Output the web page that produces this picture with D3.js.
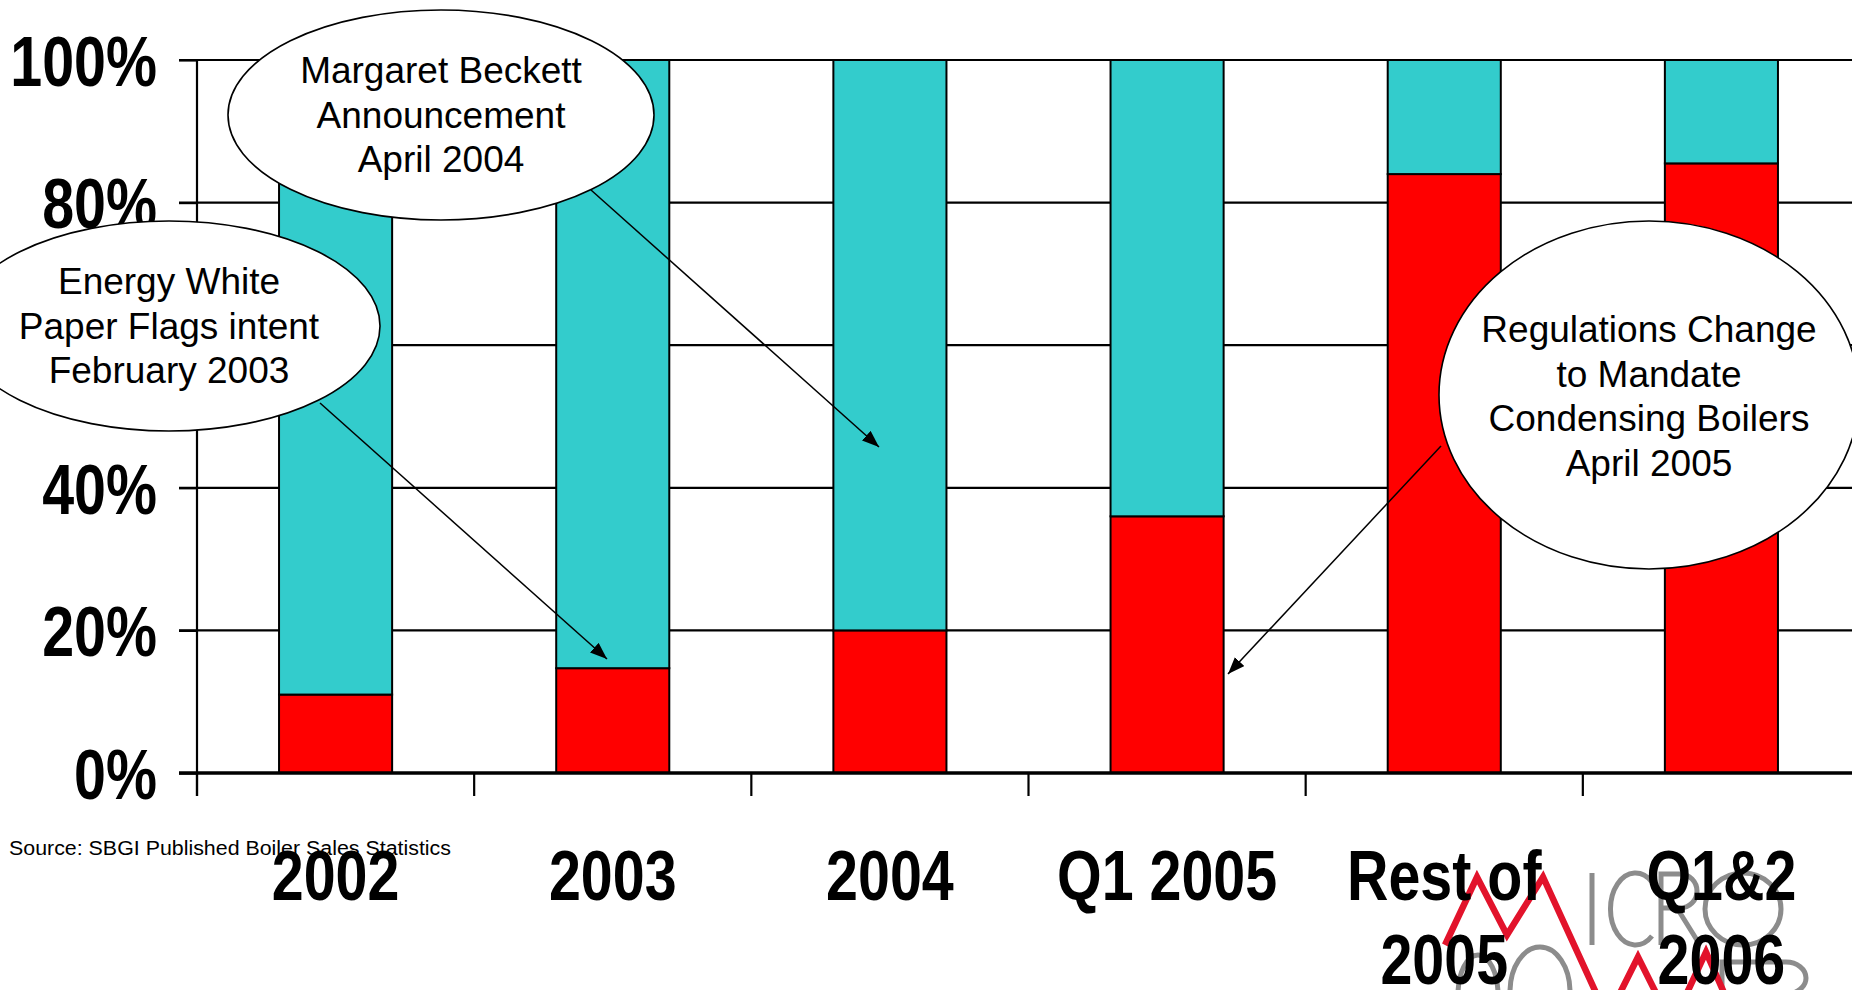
<!DOCTYPE html>
<html>
<head>
    <meta charset="UTF-8">
    <script src="https://d3js.org/d3.v7.min.js"></script>
    <style>
        html, body { margin: 0; padding: 0; background: #fff; overflow: hidden; }
        svg { display: block; }
        .bold { font-family: "Liberation Sans", Arial, sans-serif; font-weight: bold; font-size: 70px; fill: #000; }
        .note { font-family: "Liberation Sans", Arial, sans-serif; font-size: 37px; fill: #000; }
        .source { font-family: "Liberation Sans", Arial, sans-serif; font-size: 20px; fill: #000; }
    </style>
</head>
<body>
    <svg id="chart"></svg>

    <script>
        // data (share of boiler sales, %)
        const categories = ["2002", "2003", "2004", "Q1 2005", "Rest of 2005", "Q1&2 2006"];
        const tickLabels = [["2002"], ["2003"], ["2004"], ["Q1 2005"], ["Rest of", "2005"], ["Q1&2", "2006"]];
        const condensing = [11, 14.7, 20, 36, 84, 85.5];
        const nonCondensing = [89, 85.3, 80, 64, 16, 14.5];
        const yTicks = [0, 20, 40, 60, 80, 100];

        const W = 1852, H = 990;
        const svg = d3.select("#chart").attr("width", W).attr("height", H);

        // narrow bold look (Arial Narrow ~ Arial squeezed horizontally)
        const narrow = 0.82;

        let x = d3.scaleBand()
            .domain(categories)
            .range([197, 1860])
            .paddingInner(0.592)
            .paddingOuter(0.296);
        let xStep = d3.scaleBand()
            .domain(categories)
            .range([197, 1860]);
        let y = d3.scaleLinear()
            .domain([0, 100])
            .range([773, 60]);

        // gridlines
        svg.append("g")
            .selectAll("line")
            .data(yTicks.filter(d => d > 0))
            .join("line")
            .attr("x1", 179)
            .attr("x2", 1860)
            .attr("y1", d => y(d))
            .attr("y2", d => y(d))
            .attr("stroke", "#000")
            .attr("stroke-width", 2.2);

        // stacked bars
        let rows = categories.map((c, i) => ({cat: c, condensing: condensing[i], other: nonCondensing[i]}));
        let series = d3.stack().keys(["condensing", "other"])(rows);
        let colors = {condensing: "#FF0000", other: "#33CCCC"};

        svg.append("g")
            .selectAll("g")
            .data(series)
            .join("g")
            .attr("fill", d => colors[d.key])
            .selectAll("rect")
            .data(d => d)
            .join("rect")
            .attr("x", d => x(d.data.cat))
            .attr("y", d => y(d[1]))
            .attr("width", x.bandwidth())
            .attr("height", d => y(d[0]) - y(d[1]))
            .attr("stroke", "#000")
            .attr("stroke-width", 2);

        // y axis
        let yAxis = svg.append("g")
            .attr("transform", "translate(197,0)")
            .call(d3.axisLeft(y).tickValues(yTicks).tickSize(18).tickPadding(22).tickFormat(d => d + "%"));
        yAxis.select(".domain").remove();
        yAxis.selectAll(".tick line").attr("stroke", "#000").attr("stroke-width", 2.2);
        yAxis.selectAll(".tick text")
            .attr("class", "bold")
            .attr("x", -40 / narrow)
            .attr("dy", "0.36em")
            .attr("transform", "scale(" + narrow + ",1)");

        svg.append("line")
            .attr("x1", 197).attr("x2", 197)
            .attr("y1", y(100)).attr("y2", 796)
            .attr("stroke", "#000").attr("stroke-width", 2.2);

        // x axis baseline and category ticks
        svg.append("line")
            .attr("x1", 179).attr("x2", 1860)
            .attr("y1", y(0)).attr("y2", y(0))
            .attr("stroke", "#000").attr("stroke-width", 3.5);

        svg.append("g")
            .selectAll("line")
            .data(categories)
            .join("line")
            .attr("x1", d => xStep(d)).attr("x2", d => xStep(d))
            .attr("y1", y(0)).attr("y2", 796)
            .attr("stroke", "#000").attr("stroke-width", 2.2);

        // logo in the bottom right corner
        let logo = svg.append("g").attr("fill", "none");
        logo.append("path")
            .attr("d", "M1592,873 V945 M1652,882 A25,36 0 1 0 1652,936 M1661,945 V874 H1680 A17,17 0 0 1 1680,908 H1661 M1677,908 L1700,945 M1510,992 A30,45 0 0 1 1570,992 M1458,995 A20,40 0 0 1 1498,995 M1722,992 V962 H1786 A20,16 0 0 1 1786,994")
            .attr("stroke", "#8c8c8c").attr("stroke-width", 5);
        logo.append("ellipse")
            .attr("cx", 1743).attr("cy", 909).attr("rx", 38).attr("ry", 36)
            .attr("stroke", "#8c8c8c").attr("stroke-width", 5);
        let redLine = d3.line();
        [[[1445, 945], [1477, 877], [1507, 935], [1543, 877], [1597, 995]],
         [[1619, 995], [1638, 957], [1657, 995]],
         [[1686, 995], [1706, 952], [1725, 995]]].forEach(p => {
            logo.append("path").attr("d", redLine(p))
                .attr("stroke", "#E2132B").attr("stroke-width", 6.5);
        });

        // x labels
        let xl = svg.append("g")
            .selectAll("g")
            .data(categories)
            .join("g")
            .attr("transform", d => "translate(" + (xStep(d) + xStep.bandwidth() / 2) + ",900)");
        xl.each(function(d, i) {
            d3.select(this).selectAll("text")
                .data(tickLabels[i])
                .join("text")
                .attr("class", "bold")
                .attr("text-anchor", "middle")
                .attr("y", (t, j) => j * 84)
                .attr("transform", "scale(" + narrow + ",1)")
                .text(t => t);
        });

        svg.append("text")
            .attr("class", "source")
            .attr("x", 9)
            .attr("y", 855)
            .attr("textLength", 442)
            .attr("lengthAdjust", "spacingAndGlyphs")
            .text("Source: SBGI Published Boiler Sales Statistics");

        // callouts
        svg.append("defs").append("marker")
            .attr("id", "head")
            .attr("viewBox", "0 0 17 13")
            .attr("refX", 17).attr("refY", 6.5)
            .attr("markerWidth", 17).attr("markerHeight", 13)
            .attr("markerUnits", "userSpaceOnUse")
            .attr("orient", "auto")
            .append("path")
            .attr("d", "M0,0 L17,6.5 L0,13 Z")
            .attr("fill", "#000");

        const callouts = [
            {lines: ["Margaret Beckett", "Announcement", "April 2004"], cx: 441, cy: 115, rx: 213, ry: 105, top: 83, from: [591, 190], to: [879, 447]},
            {lines: ["Energy White", "Paper Flags intent", "February 2003"], cx: 169, cy: 326, rx: 211, ry: 105, top: 294, from: [320, 403], to: [607, 659]},
            {lines: ["Regulations Change", "to Mandate", "Condensing Boilers", "April 2005"], cx: 1649, cy: 395, rx: 210, ry: 174, top: 342, from: [1441, 446], to: [1228, 674]}
        ];

        svg.append("g")
            .selectAll("line")
            .data(callouts)
            .join("line")
            .attr("x1", d => d.from[0]).attr("y1", d => d.from[1])
            .attr("x2", d => d.to[0]).attr("y2", d => d.to[1])
            .attr("stroke", "#000").attr("stroke-width", 1.5)
            .attr("marker-end", "url(#head)");

        let co = svg.append("g")
            .selectAll("g")
            .data(callouts)
            .join("g");
        co.append("ellipse")
            .attr("cx", d => d.cx).attr("cy", d => d.cy)
            .attr("rx", d => d.rx).attr("ry", d => d.ry)
            .attr("fill", "#fff").attr("stroke", "#000").attr("stroke-width", 1.6);
        co.each(function(d) {
            d3.select(this).selectAll("text")
                .data(d.lines)
                .join("text")
                .attr("class", "note")
                .attr("text-anchor", "middle")
                .attr("x", d.cx)
                .attr("y", (t, j) => d.top + j * 44.5)
                .text(t => t);
        });
    </script>
</body>
</html>
